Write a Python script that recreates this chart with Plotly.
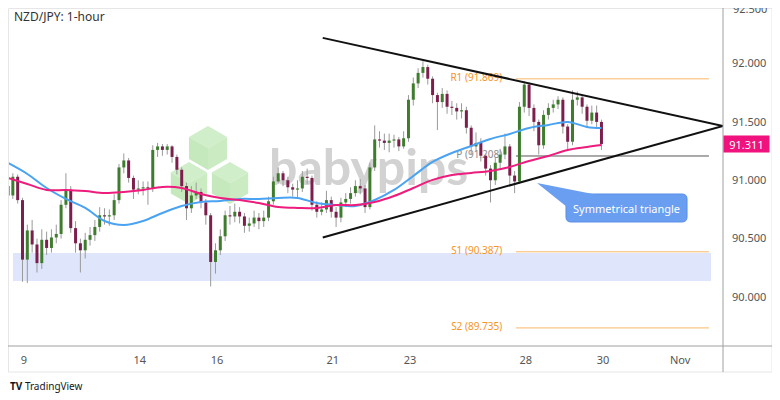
import plotly.graph_objects as go

# -- NZD/JPY 1-hour chart, drawn as 3-hour bars
# - x is in trading days, 0 = Oct 9 00:00 (weekends removed)
first_bar = -0.414
bar_step = 3 / 24

first_open = 90.95
closes = [90.87, 91.03, 90.83, 90.32, 90.57, 90.45, 90.29, 90.49, 90.42, 90.51,
          90.54, 90.79, 90.92, 90.59, 90.46, 90.40, 90.49, 90.53, 90.60, 90.70,
          90.69, 90.70, 90.83, 91.11, 91.17, 91.02, 90.92, 90.93, 90.94, 90.93,
          91.26, 91.29, 91.26, 91.29, 91.20, 91.09, 90.95, 90.76, 90.87, 90.90,
          90.81, 90.70, 90.30, 90.40, 90.52, 90.70, 90.69, 90.73, 90.69, 90.61,
          90.63, 90.68, 90.65, 90.68, 90.82, 90.99, 91.06, 91.00, 90.94, 90.92,
          90.93, 91.03, 91.02, 90.79, 90.73, 90.75, 90.83, 90.73, 90.68, 90.81,
          90.84, 90.89, 90.95, 90.93, 90.77, 91.11, 91.35, 91.34, 91.32, 91.34,
          91.35, 91.29, 91.36, 91.69, 91.83, 91.92, 91.97, 91.87, 91.73, 91.67,
          91.74, 91.63, 91.62, 91.59, 91.60, 91.45, 91.29, 91.32, 91.21, 91.10,
          91.00, 91.15, 91.22, 91.29, 91.04, 90.99, 91.63, 91.82, 91.62, 91.50,
          91.30, 91.56, 91.62, 91.65, 91.69, 91.46, 91.33, 91.69, 91.71, 91.63,
          91.51, 91.58, 91.50, 91.311]
highs = [91.00, 91.06, 91.05, 90.85, 90.62, 90.66, 90.50, 90.58, 90.56, 90.58,
         90.62, 90.83, 91.06, 90.95, 90.65, 90.50, 90.55, 90.60, 90.66, 90.77,
         90.76, 90.75, 90.88, 91.14, 91.23, 91.19, 91.04, 91.00, 90.99, 90.99,
         91.30, 91.32, 91.31, 91.31, 91.30, 91.22, 91.11, 90.98, 90.95, 90.98,
         90.93, 90.84, 90.72, 90.46, 90.58, 90.74, 90.78, 90.80, 90.77, 90.72,
         90.68, 90.74, 90.72, 90.74, 90.86, 91.03, 91.11, 91.08, 91.03, 90.97,
         91.00, 91.08, 91.10, 91.04, 90.82, 90.81, 90.91, 90.86, 90.77, 90.85,
         90.89, 90.94, 91.00, 91.01, 90.96, 91.15, 91.47, 91.42, 91.40, 91.40,
         91.39, 91.37, 91.42, 91.73, 91.88, 91.96, 92.02, 91.99, 91.89, 91.75,
         91.79, 91.77, 91.68, 91.66, 91.66, 91.63, 91.47, 91.41, 91.36, 91.23,
         91.13, 91.19, 91.27, 91.40, 91.31, 91.08, 91.67, 91.85, 91.84, 91.65,
         91.52, 91.60, 91.66, 91.69, 91.72, 91.71, 91.48, 91.77, 91.76, 91.73,
         91.65, 91.64, 91.64, 91.52]
lows = [90.78, 90.84, 90.80, 90.13, 90.12, 90.38, 90.21, 90.24, 90.36, 90.38,
        90.46, 90.50, 90.76, 90.55, 90.38, 90.21, 90.33, 90.44, 90.48, 90.56,
        90.62, 90.61, 90.66, 90.80, 91.06, 90.98, 90.84, 90.88, 90.87, 90.79,
        90.90, 91.20, 91.21, 91.22, 91.15, 91.05, 90.90, 90.66, 90.72, 90.84,
        90.76, 90.62, 90.09, 90.20, 90.36, 90.48, 90.62, 90.64, 90.63, 90.55,
        90.56, 90.60, 90.58, 90.60, 90.65, 90.79, 90.97, 90.95, 90.89, 90.86,
        90.85, 90.90, 90.97, 90.74, 90.68, 90.70, 90.72, 90.68, 90.60, 90.64,
        90.77, 90.80, 90.86, 90.88, 90.72, 90.75, 91.08, 91.28, 91.26, 91.24,
        91.28, 91.25, 91.27, 91.33, 91.64, 91.79, 91.88, 91.82, 91.66, 91.43,
        91.62, 91.57, 91.56, 91.52, 91.53, 91.40, 91.22, 91.25, 91.16, 91.04,
        90.81, 90.96, 91.10, 91.18, 90.96, 90.89, 90.97, 91.58, 91.55, 91.42,
        91.22, 91.27, 91.52, 91.58, 91.61, 91.40, 91.25, 91.30, 91.64, 91.57,
        91.45, 91.48, 91.44, 91.26]

# -- moving averages, read every 4th bar (plus the last one)
ma_bars = list(range(0, 124, 4)) + [123]
ma_fast = [91.148, 91.054, 90.934, 90.840, 90.763, 90.651, 90.617, 90.651, 90.720, 90.780,
           90.814, 90.823, 90.840, 90.840, 90.849, 90.849, 90.805, 90.788, 90.780, 90.831,
           90.917, 91.037, 91.157, 91.234, 91.294, 91.354, 91.397, 91.448, 91.474, 91.500,
           91.457, 91.448]
ma_slow = [91.020, 90.968, 90.917, 90.917, 90.908, 90.891, 90.900, 90.917, 90.943, 90.934,
           90.883, 90.848, 90.831, 90.805, 90.771, 90.763, 90.763, 90.788, 90.788, 90.814,
           90.865, 90.934, 91.003, 91.045, 91.063, 91.080, 91.114, 91.165, 91.208, 91.260,
           91.285, 91.302]

# -- pivot levels
pivot_names = ['R1', 'P', 'S1', 'S2']
pivot_levels = [91.869, 91.208, 90.387, 89.735]
pivot_start, pivot_end = 12.746, 17.746

# -- support zone and triangle
zone_low, zone_high = 90.137, 90.377
tri_start, tri_apex_x = 7.74, 18.11
tri_upper, tri_lower, tri_apex = 92.22, 90.51, 91.465

last_price = 91.311
day_ticks = [0, 3, 5, 8, 10, 13, 15, 17]
day_labels = ['9', '14', '16', '21', '23', '28', '30', 'Nov']
price_ticks = [90.0, 90.5, 91.0, 91.5, 92.0, 92.5]

x_range = [-0.4145, 18.11]
y_range = [89.58, 92.476]

opens = [first_open] + closes[:-1]
xs = [first_bar + i * bar_step for i in range(len(closes))]


# - screen-pixel helpers for decorations (page has an 8px body margin;
#   plot area covers 8..723 x 8..346 on screen)
def px(v):
    return (v - 8) / 715


def py(v):
    return (346 - v) / 338


def poly(points):
    return 'M ' + ' L '.join(f'{px(a):.4f},{py(b):.4f}' for a, b in points) + ' Z'


fig = go.Figure()

# -- watermark text, drawn first so candles sit on top
fig.add_trace(go.Scatter(x=[8.93], y=[91.07], mode='text', text=['babypips'],
                         textfont=dict(family='Lato', size=50, color='#d2d2d2', weight='bold'),
                         hoverinfo='skip'))

# -- pivot labels
pivot_colors = ['#f7941d', '#8a8a8a', '#f7941d', '#f7941d']
fig.add_trace(go.Scatter(x=[12.39] * 4, y=pivot_levels, mode='text',
                         text=[f'{n} ({v:.3f})' for n, v in zip(pivot_names, pivot_levels)],
                         textposition='middle left',
                         textfont=dict(family='Noto Sans', size=10, color=pivot_colors),
                         hoverinfo='skip'))

# -- wicks
wx, wy = [], []
for x, h, l in zip(xs, highs, lows):
    wx += [x, x, None]
    wy += [l, h, None]
fig.add_trace(go.Scatter(x=wx, y=wy, mode='lines', line=dict(color='#9a9a9a', width=1),
                         hoverinfo='skip'))

# -- bodies, up and down
for up, col in [(True, '#3f7d2e'), (False, '#7d1f4d')]:
    bx, by = [], []
    for x, o, c in zip(xs, opens, closes):
        if (c >= o) == up:
            bx += [x, x, None]
            by += [o, c, None]
    fig.add_trace(go.Scatter(x=bx, y=by, mode='lines', line=dict(color=col, width=3),
                             hoverinfo='skip'))

# -- moving averages
ma_x = [xs[i] for i in ma_bars]
fig.add_trace(go.Scatter(x=ma_x, y=ma_fast, mode='lines', line=dict(color='#4aa3f2', width=2, shape='spline')))
fig.add_trace(go.Scatter(x=ma_x, y=ma_slow, mode='lines', line=dict(color='#ee1c7c', width=2, shape='spline')))

shapes = []
# - support zone
shapes.append(dict(type='rect', xref='x', yref='y', x0=-0.285, x1=17.8, y0=zone_low, y1=zone_high,
                   fillcolor='#dfe6fb', line=dict(width=0), layer='below'))

# - babypips cubes
for cx, cy, r in [(208, 148, 22), (189, 183, 21), (230, 183, 21)]:
    w = r * 0.866
    top = [(cx, cy - r), (cx + w, cy - r / 2), (cx, cy), (cx - w, cy - r / 2)]
    left = [(cx - w, cy - r / 2), (cx, cy), (cx, cy + r), (cx - w, cy + r / 2)]
    right = [(cx, cy), (cx + w, cy - r / 2), (cx + w, cy + r / 2), (cx, cy + r)]
    for face, col in [(top, '#d0eec9'), (left, '#c5e9bd'), (right, '#cbecc3')]:
        shapes.append(dict(type='path', xref='paper', yref='paper', path=poly(face),
                           fillcolor=col, line=dict(width=0), layer='below'))

# - pivot lines
for lvl, name in zip(pivot_levels, pivot_names):
    col = '#555555' if name == 'P' else '#f9b868'
    shapes.append(dict(type='line', xref='x', yref='y', x0=pivot_start, x1=pivot_end, y0=lvl, y1=lvl,
                       line=dict(color=col, width=1), layer='below'))

# - triangle
shapes.append(dict(type='line', xref='x', yref='y', x0=tri_start, y0=tri_upper, x1=tri_apex_x, y1=tri_apex,
                   line=dict(color='#111111', width=2)))
shapes.append(dict(type='line', xref='x', yref='y', x0=tri_start, y0=tri_lower, x1=tri_apex_x, y1=tri_apex,
                   line=dict(color='#111111', width=2)))

# - callout box with pointer
x0, x1, y0, y1, rr = 566, 687, 194, 222, 5
box = (f'M {px(x0 + rr):.4f},{py(y0):.4f} L {px(x1 - rr):.4f},{py(y0):.4f} '
       f'Q {px(x1):.4f},{py(y0):.4f} {px(x1):.4f},{py(y0 + rr):.4f} '
       f'L {px(x1):.4f},{py(y1 - rr):.4f} Q {px(x1):.4f},{py(y1):.4f} {px(x1 - rr):.4f},{py(y1):.4f} '
       f'L {px(x0 + rr):.4f},{py(y1):.4f} Q {px(x0):.4f},{py(y1):.4f} {px(x0):.4f},{py(y1 - rr):.4f} '
       f'L {px(x0):.4f},{py(y0 + rr):.4f} Q {px(x0):.4f},{py(y0):.4f} {px(x0 + rr):.4f},{py(y0):.4f} Z')
shapes.append(dict(type='path', xref='paper', yref='paper', path=box,
                   fillcolor='#6a9ef0', line=dict(color='#5a8ee6', width=1)))
shapes.append(dict(type='path', xref='paper', yref='paper',
                   path=poly([(537, 183), (567, 207), (598, 195)]),
                   fillcolor='#6a9ef0', line=dict(width=0)))

# - frame and axis lines
shapes.append(dict(type='rect', xref='paper', yref='paper', x0=px(8.5), x1=px(772), y0=py(372), y1=py(8.5),
                   line=dict(color='#e6e6e6', width=1)))
shapes.append(dict(type='line', xref='paper', yref='paper', x0=px(8), x1=px(772), y0=py(346), y1=py(346),
                   line=dict(color='#a0a0a0', width=1)))
shapes.append(dict(type='line', xref='paper', yref='paper', x0=px(723), x1=px(723), y0=py(372), y1=py(8),
                   line=dict(color='#a0a0a0', width=1)))

annotations = [
    dict(xref='paper', yref='paper', x=px(12), y=py(16), text='NZD/JPY: 1-hour', showarrow=False,
         xanchor='left', yanchor='middle', font=dict(family='Noto Sans', size=12, color='#333333')),
    dict(xref='paper', yref='paper', x=px(626), y=py(208), text='Symmetrical triangle', showarrow=False,
         xanchor='center', yanchor='middle', font=dict(family='Noto Sans', size=11, color='white')),
    dict(xref='paper', yref='y', x=px(723), y=last_price, text=f'{last_price:.3f}', showarrow=False,
         xanchor='left', yanchor='middle', bgcolor='#f0127d', borderpad=2, width=41, height=12,
         font=dict(family='Noto Sans', size=11, color='white')),
    dict(xref='paper', yref='paper', x=px(731), y=py(8), text=f'{price_ticks[-1]:.3f}', showarrow=False,
         xanchor='left', yanchor='middle', font=dict(family='Noto Sans', size=11, color='#555555')),
    dict(xref='paper', yref='paper', x=px(8), y=py(386), text='<b>TV</b> TradingView', showarrow=False,
         xanchor='left', yanchor='middle', font=dict(family='Noto Sans', size=10, color='#131722')),
]

fig.update_layout(
    width=780, height=400,
    margin=dict(l=0, r=65, t=0, b=62, autoexpand=False),
    plot_bgcolor='white', paper_bgcolor='white',
    showlegend=False,
    shapes=shapes,
    annotations=annotations,
    xaxis=dict(range=x_range, tickvals=day_ticks, ticktext=day_labels, showgrid=False,
               zeroline=False, showline=False, ticks='', ticklabelstandoff=6, automargin=False,
               tickfont=dict(family='Noto Sans', size=11, color='#555555')),
    yaxis=dict(range=y_range, side='right', tickvals=price_ticks[:-1],
               ticktext=[f'{v:.3f}' for v in price_ticks[:-1]], showgrid=False, zeroline=False,
               showline=False, ticks='', ticklabelstandoff=8, automargin=False,
               tickfont=dict(family='Noto Sans', size=11, color='#555555')),
)

fig.write_html("out.html")
